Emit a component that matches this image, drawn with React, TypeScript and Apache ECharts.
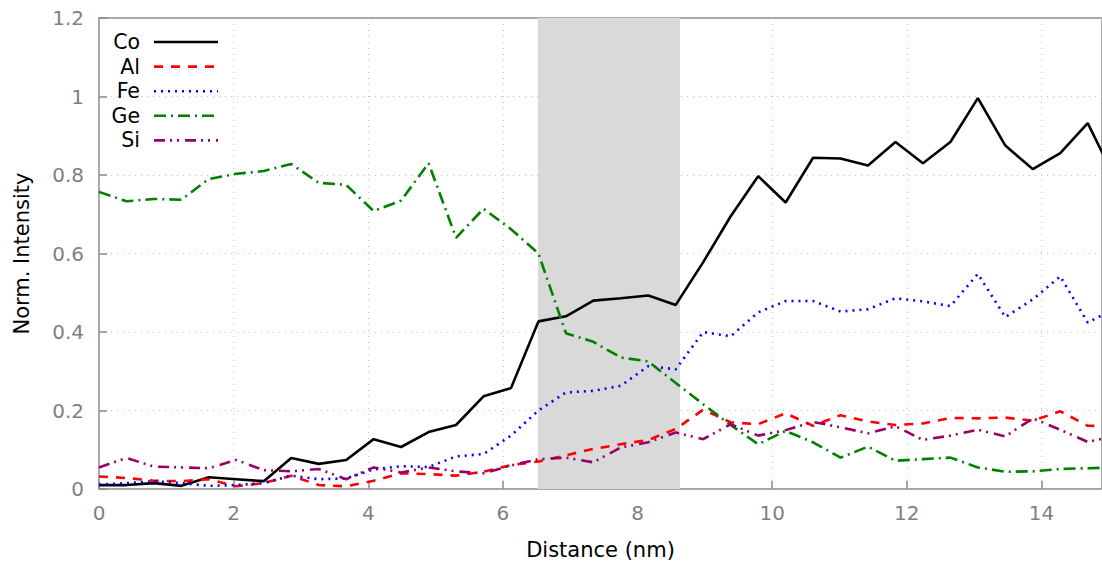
import React, { useEffect, useRef } from "react";
import * as echarts from "echarts";

const STEP = 0.408;
const co = [0.01, 0.01, 0.015, 0.008, 0.03, 0.025, 0.02, 0.079, 0.064, 0.074, 0.127, 0.107, 0.145, 0.163, 0.236, 0.257, 0.427, 0.44, 0.48, 0.486, 0.493, 0.469, 0.578, 0.695, 0.797, 0.73, 0.844, 0.842, 0.824, 0.884, 0.83, 0.884, 0.996, 0.875, 0.815, 0.856, 0.932, 0.79];
const al = [0.032, 0.028, 0.021, 0.02, 0.025, 0.007, 0.015, 0.034, 0.01, 0.007, 0.021, 0.04, 0.038, 0.034, 0.044, 0.061, 0.07, 0.086, 0.102, 0.114, 0.125, 0.153, 0.202, 0.17, 0.165, 0.193, 0.161, 0.188, 0.172, 0.163, 0.167, 0.181, 0.18, 0.182, 0.174, 0.198, 0.161, 0.16];
const fe = [0.011, 0.015, 0.02, 0.015, 0.008, 0.01, 0.015, 0.034, 0.025, 0.027, 0.05, 0.058, 0.056, 0.083, 0.089, 0.136, 0.2, 0.246, 0.25, 0.263, 0.313, 0.305, 0.4, 0.389, 0.45, 0.479, 0.479, 0.452, 0.458, 0.486, 0.478, 0.466, 0.548, 0.438, 0.483, 0.542, 0.424, 0.46];
const ge = [0.757, 0.733, 0.739, 0.737, 0.79, 0.803, 0.81, 0.828, 0.78, 0.775, 0.708, 0.735, 0.83, 0.64, 0.714, 0.662, 0.6, 0.397, 0.375, 0.335, 0.325, 0.27, 0.216, 0.163, 0.114, 0.148, 0.119, 0.08, 0.108, 0.072, 0.076, 0.08, 0.055, 0.044, 0.045, 0.051, 0.053, 0.055];
const si = [0.055, 0.079, 0.057, 0.055, 0.053, 0.074, 0.048, 0.045, 0.051, 0.025, 0.055, 0.042, 0.055, 0.045, 0.04, 0.06, 0.076, 0.08, 0.068, 0.106, 0.119, 0.144, 0.127, 0.165, 0.136, 0.15, 0.171, 0.157, 0.142, 0.16, 0.125, 0.136, 0.151, 0.134, 0.18, 0.151, 0.12, 0.135];
const band = [6.52, 8.63];

const names = ["Co", "Al", "Fe", "Ge", "Si"];
const colors = ["#000000", "#ff0000", "#0000ff", "#008000", "#990066"];
const dashes: (number[] | "solid")[] = ["solid", [9, 8], [2, 5], [12, 5, 2, 5], [11, 5, 2, 5, 2, 6]];
const values = [co, al, fe, ge, si];

const FONT = "DejaVu Sans";

export default function App() {
  const ref = useRef<HTMLDivElement>(null);
  useEffect(() => {
    if (!ref.current) return;
    const chart = echarts.init(ref.current, undefined, { renderer: "svg" });
    const series: any[] = values.map((vals, k) => ({
      name: names[k],
      type: "line",
      showSymbol: false,
      symbol: "none",
      z: 3,
      data: vals.map((v, i) => [+(i * STEP).toFixed(3), v]),
      lineStyle: { color: colors[k], width: 2.6, type: dashes[k] },
      itemStyle: { color: colors[k] },
    }));
    series.unshift({
      type: "line",
      data: [],
      z: 1,
      markArea: {
        silent: true,
        itemStyle: { color: "#d9d9d9" },
        data: [[{ xAxis: band[0] }, { xAxis: band[1] }]],
      },
    });
    const legendEls: any[] = [];
    names.forEach((n, k) => {
      const y = 42 + k * 24.6;
      legendEls.push({
        type: "text",
        x: 140,
        y,
        style: { text: n, fill: "#000", font: `20.5px '${FONT}'`, textAlign: "right", textVerticalAlign: "middle" },
        z: 10,
      });
      legendEls.push({
        type: "line",
        shape: { x1: 154, y1: y, x2: 218, y2: y },
        style: { stroke: colors[k], lineWidth: 2.6, lineDash: dashes[k] === "solid" ? null : dashes[k] },
        z: 10,
      });
    });
    chart.setOption({
      animation: false,
      backgroundColor: "#ffffff",
      grid: { left: 99, top: 18, right: -3, bottom: 72, show: true, borderColor: "#8a8a8a", borderWidth: 1.5, backgroundColor: "transparent" },
      xAxis: {
        type: "value",
        min: 0,
        max: 14.9,
        interval: 2,
        name: "Distance (nm)",
        nameLocation: "middle",
        nameGap: 50,
        nameTextStyle: { color: "#000", fontSize: 21, fontFamily: FONT },
        axisLine: { show: false },
        axisTick: { show: true, inside: true, length: 8, lineStyle: { color: "#8a8a8a", width: 1.5 } },
        axisLabel: { color: "#808080", fontSize: 20, fontFamily: FONT, margin: 14, showMaxLabel: false },
        splitLine: { show: true, lineStyle: { color: "#c0c0c0", width: 1, type: [1, 5] } },
      },
      yAxis: {
        type: "value",
        min: 0,
        max: 1.2,
        interval: 0.2,
        name: "Norm. Intensity",
        nameLocation: "middle",
        nameGap: 67,
        nameTextStyle: { color: "#000", fontSize: 21, fontFamily: FONT },
        axisLine: { show: false },
        axisTick: { show: true, inside: true, length: 8, lineStyle: { color: "#8a8a8a", width: 1.5 } },
        axisLabel: { color: "#808080", fontSize: 20, fontFamily: FONT, margin: 15 },
        splitLine: { show: true, lineStyle: { color: "#c0c0c0", width: 1, type: [1, 5] } },
      },
      graphic: legendEls,
      series,
    });
    return () => chart.dispose();
  }, []);
  return <div ref={ref} style={{ position: "fixed", left: 0, top: 0, width: 1102, height: 565 }} />;
}
